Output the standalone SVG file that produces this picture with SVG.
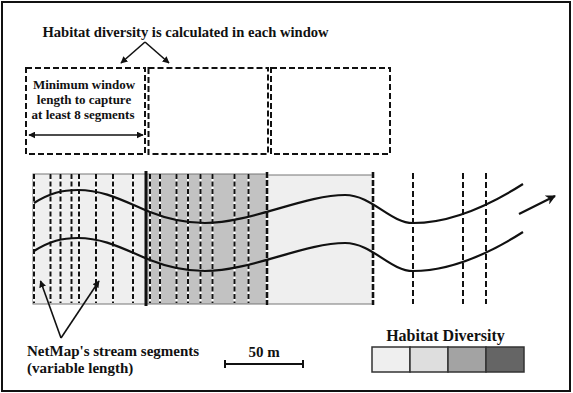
<svg xmlns="http://www.w3.org/2000/svg" width="573" height="393" viewBox="0 0 573 393">
<style>
.t{font-family:"Liberation Serif","Times New Roman",serif;font-weight:bold;fill:#111}
.win{fill:none;stroke:#111;stroke-width:2;stroke-dasharray:6,3}
.reg{stroke:#777;stroke-width:1}
.wl{stroke:#fff;stroke-width:2;fill:none}
.seg{stroke:#111;stroke-width:2;stroke-dasharray:5,2.5;fill:none}
.seg2{stroke:#111;stroke-width:2;stroke-dasharray:6,3;fill:none}
.bnd{stroke:#111;stroke-width:2.6;stroke-dasharray:6,2;fill:none}
.str{fill:none;stroke:#111;stroke-width:2.2}
.ar{fill:none;stroke:#111;stroke-width:1.6}
.leg{stroke:#333;stroke-width:1.5}
</style>
<defs>
<marker id="ah" viewBox="0 0 10 10" refX="9" refY="5" markerWidth="7" markerHeight="7" markerUnits="userSpaceOnUse" orient="auto-start-reverse">
<path d="M0,0 L10,5 L0,10 z" fill="#111"/>
</marker>
<marker id="ahb" viewBox="0 0 10 10" refX="9" refY="5" markerWidth="10" markerHeight="10" markerUnits="userSpaceOnUse" orient="auto">
<path d="M0,0 L10,5 L0,10 L3,5 z" fill="#111"/>
</marker>
</defs>
<rect x="2" y="2" width="568" height="389" fill="#fff" stroke="#111" stroke-width="2"/>

<g id="title">
<text class="t" x="185.5" y="37" font-size="14.6" text-anchor="middle">Habitat diversity is calculated in each window</text>
</g>

<g id="window1">
<rect class="win" x="26" y="68" width="119" height="86"/>
<text class="t" font-size="13" text-anchor="middle"><tspan x="84" y="89">Minimum window</tspan><tspan x="84" y="104">length to capture</tspan><tspan x="83" y="119">at least 8 segments</tspan></text>
</g>
<g id="window2"><rect class="win" x="148.5" y="68" width="119.5" height="86"/></g>
<g id="window3"><rect class="win" x="271" y="68" width="119" height="86"/></g>

<g id="regions">
<rect class="reg" x="33" y="174" width="113" height="130" fill="#efefef"/>
<rect class="reg" x="146" y="174" width="121" height="130" fill="#c2c2c2"/>
<rect class="reg" x="267" y="175" width="106" height="129" fill="#efefef"/>
</g>

<g id="segments">
<path class="wl" d="M34,174V303M50.5,174V303M60.5,174V303M71.5,174V303M79,174V303M96,174V303M113,174V303M133,174V303M150,174V303M160,174V303M176.5,174V303M188,174V303M200.5,174V303M212.5,174V303M234.5,174V303M248.5,174V303"/>
<path class="seg" d="M34,174V303M50.5,174V303M60.5,174V303M71.5,174V303M79,174V303M96,174V303M113,174V303M133,174V303M150,174V303M160,174V303M176.5,174V303M188,174V303M200.5,174V303M212.5,174V303M234.5,174V303M248.5,174V303"/>
<path d="M146,171V306" stroke="#111" stroke-width="3"/>
<path d="M267,172V305M373,172V305" stroke="#fff" stroke-width="2.6"/>
<path class="bnd" d="M267,172V305M373,172V305"/>
<path class="seg2" d="M413,173V304M463,173V304M486,173V304"/>
</g>

<g id="stream">
<path class="str" d="M34,203 C50,193 62,190 78,190 C105,190 125,202 150,212 C170,220 185,223 205,223 C250,223 305,195 345,195 C372,195 390,223 413,223 C450,223 490,205 523,184"/>
<path class="str" transform="translate(0,48)" d="M34,203 C50,193 62,190 78,190 C105,190 125,202 150,212 C170,220 185,223 205,223 C250,223 305,195 345,195 C372,195 390,223 413,223 C450,223 490,205 523,184"/>
</g>

<g id="connectors">
<path class="ar" d="M145,42 L121,63" marker-end="url(#ah)"/>
<path class="ar" d="M145,42 L169,63" marker-end="url(#ah)"/>
<path class="ar" d="M29,135 L143,135" marker-start="url(#ah)" marker-end="url(#ah)" stroke-width="1.3"/>
<path class="ar" d="M61,338 L40.5,281" marker-end="url(#ah)"/>
<path class="ar" d="M61,338 L99,281" marker-end="url(#ah)"/>
<path d="M519,214 L555,196" fill="none" stroke="#111" stroke-width="2.2" marker-end="url(#ahb)"/>
</g>

<g id="label-segments">
<text class="t" font-size="15"><tspan x="27" y="356">NetMap's stream segments</tspan><tspan x="27" y="373">(variable length)</tspan></text>
</g>

<g id="scale">
<text class="t" x="264" y="357" font-size="15" text-anchor="middle">50 m</text>
<path d="M225,364H303M225,360V368M303,360V368" stroke="#111" stroke-width="2" fill="none"/>
</g>

<g id="legend">
<text class="t" x="445.5" y="341" font-size="16" text-anchor="middle">Habitat Diversity</text>
<rect class="leg" x="372" y="347" width="38" height="25" fill="#efefef"/>
<rect class="leg" x="410" y="347" width="38" height="25" fill="#dedede"/>
<rect class="leg" x="448" y="347" width="38" height="25" fill="#a3a3a3"/>
<rect class="leg" x="486" y="347" width="38" height="25" fill="#656565"/>
</g>
</svg>
